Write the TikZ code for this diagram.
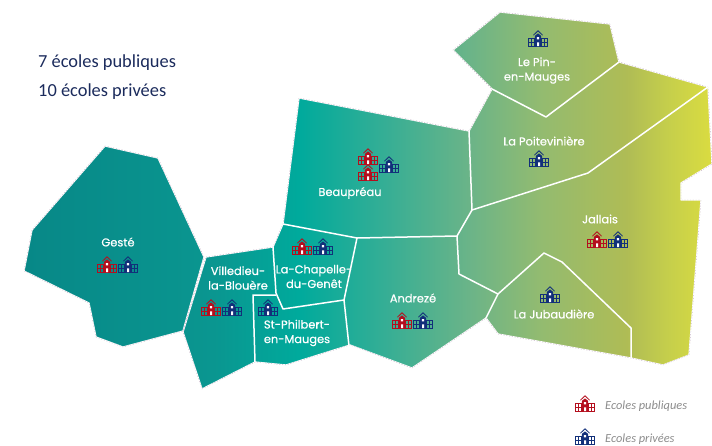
\documentclass[tikz,border=0pt]{standalone}
\usepackage{fontspec}
\setmainfont{Carlito}
\newfontfamily\mapfont[FakeBold=0.5]{Poppins}
\usetikzlibrary{calc}
\definecolor{pubred}{HTML}{B40F1E}
\definecolor{privblue}{HTML}{12307A}
\definecolor{navytext}{HTML}{1B2B5C}
\definecolor{legendgray}{HTML}{8C8C8C}
\definecolor{c0}{HTML}{078686}
\definecolor{c1}{HTML}{0A9690}
\definecolor{c2}{HTML}{00AA9C}
\definecolor{c3}{HTML}{35AE95}
\definecolor{c4}{HTML}{6BB488}
\definecolor{c5}{HTML}{93BB70}
\definecolor{c6}{HTML}{AFBC55}
\definecolor{c7}{HTML}{C6CF4B}
\definecolor{c8}{HTML}{DADC40}
% TikZ maps a shaded path's box onto 25bp..75bp of the 100bp shading
\pgfdeclarehorizontalshading{mapgrad}{100bp}{
  color(0bp)=(c0); color(25bp)=(c0); color(40bp)=(c1); color(46bp)=(c2); color(52bp)=(c3);
  color(58bp)=(c4); color(63bp)=(c5); color(69bp)=(c6); color(72bp)=(c7);
  color(75bp)=(c8); color(100bp)=(c8)}
\def\regionpaths{
  (105,146)--(158,158)--(204,257)--(183,331)--(123,347)--(96,337)--(89,303)--(24,271)--(32,230)--cycle
  (206,257)--(273,247)--(283,224)--(299,98)--(469,131)--(492,89)--(453,50)--(500,12)--(610,24)--(619,62)--(708,87)--(712,164)--(681,183)--(681,200)--(701,200)--(689,355)--(663,365)--(631,358)--(498,334)--(486,318)--(412,368)--(350,345)--(286,365)--(255,362)--(202,389)--(183,332)--cycle}
\tikzset{
  x=1pt,y=-1pt,
  outeredge/.style={draw=white,line width=1.3pt,line join=round},
  outerfleck/.style={draw=violet!35!gray!45,line width=.4pt,dash pattern=on 1.2pt off 1.6pt},
  inneredge/.style={draw=white,line width=1.5pt,line join=round},
  townlabel/.style={text=white,font=\mapfont\fontsize{11.4}{14.6}\selectfont,inner sep=0pt,align=center},
  infotext/.style={text=navytext,font=\fontsize{18.4}{20}\selectfont,anchor=west,inner sep=0pt},
  legendtext/.style={text=legendgray,font=\itshape\fontsize{12.4}{14}\selectfont,anchor=west,inner sep=0pt},
  schoolicon/.pic={
    \begin{scope}[draw=#1,line width=.8pt,line join=miter]
      \draw (-9.3,-.5) rectangle (-3.2,7.6) (3.2,-.5) rectangle (9.3,7.6);
      \draw (-9.3,3.6)--(-3.2,3.6) (3.2,3.6)--(9.3,3.6) (-6.2,-.5)--(-6.2,7.6) (6.2,-.5)--(6.2,7.6);
      \draw[line width=1.1pt] (-9.3,7.6)--(9.3,7.6);
      \fill[#1] (-3.2,7.6)--(-3.2,-3)--(0,-5.6)--(3.2,-3)--(3.2,7.6)--cycle;
      \draw[line width=.8pt] (-4.6,-3.8)--(0,-8.2)--(4.6,-3.8);
      \fill[white] (-1.1,-1.9) rectangle (1.1,.3) (-1,3.4) rectangle (1,7);
    \end{scope}}
}
\begin{document}
\begin{tikzpicture}
\useasboundingbox (0,0) rectangle (712,445);
% gradient map
\begin{scope}
  \expandafter\clip\regionpaths;
  \path[shading=mapgrad] (0,0) rectangle (712,445);
\end{scope}
% outer borders
\draw[outeredge] \regionpaths;
\draw[outerfleck] \regionpaths;
% inner boundaries
\draw[inneredge] (273,247)--(276,293)--(283,309)--(344,300)--(357,238)--(283,224);
\draw[inneredge] (276,295)--(253,295)--(255,362);
\draw[inneredge] (344,300)--(349,346);
\draw[inneredge] (357,238)--(457,236)--(472,210)--(469,131);
\draw[inneredge] (472,210)--(588,173)--(708,87);
\draw[inneredge] (492,89)--(546,117)--(619,62);
\draw[inneredge] (457,236)--(459,274)--(498,294)--(486,318);
\draw[inneredge] (498,294)--(544,253)--(562,262)--(631,328)--(631,358);
% labels
\node[townlabel] (geste) at (118,242) {Gesté};
\node[townlabel] (villedieu) at (238,278) {Villedieu-\\la-Blouère};
\node[townlabel] (chapelle) at (314,276.5) {La-Chapelle-\\du-Genêt};
\node[townlabel] (philbert) at (297,333) {St-Philbert-\\en-Mauges};
\node[townlabel] (beaupreau) at (350,193) {Beaupréau};
\node[townlabel] (pin) at (537,70.5) {Le Pin-\\en-Mauges};
\node[townlabel] (poit) at (544,141) {La Poitevinière};
\node[townlabel] (jallais) at (600,219) {Jallais};
\node[townlabel] (jub) at (554,314) {La Jubaudière};
\node[townlabel] (andreze) at (413,298) {Andrezé};
% school icons
\foreach \px/\py in {107/265,211/308,302/247,368/157,368/173,597/240,402/321,585/404}
  \pic at (\px,\py) {schoolicon=pubred};
\foreach \px/\py in {128/265,232/308,268/308,323/247,389/165,538/39,539/159,618/240,550/295,423/321,585/437}
  \pic at (\px,\py) {schoolicon=privblue};
% texts
\node[infotext] (pubcount) at (38,63) {7 écoles publiques};
\node[infotext] (privcount) at (38,92) {10 écoles privées};
\node[legendtext] (legpub) at (605,406) {Ecoles publiques};
\node[legendtext] (legpriv) at (605,439) {Ecoles privées};
\end{tikzpicture}
\end{document}
